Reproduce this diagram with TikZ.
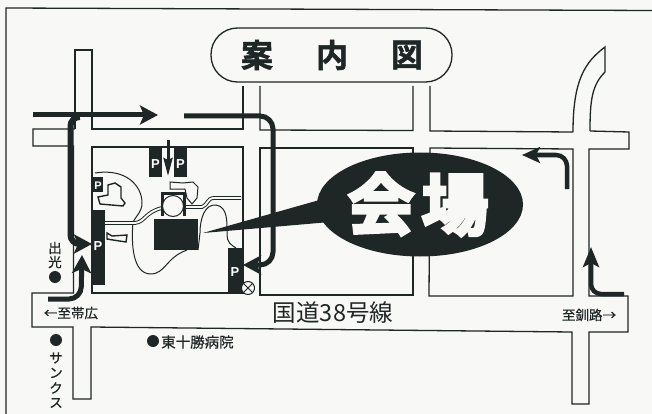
\documentclass[tikz,border=0pt]{standalone}
\usepackage{fontspec}
\usetikzlibrary{arrows.meta}
\setmainfont{Liberation Sans}
\newfontfamily\cjk[FakeBold=0.5]{Noto Sans CJK JP}
\newfontfamily\cjkthin{Noto Sans CJK JP}
\newfontfamily\cjkbig[FakeBold=1.6]{Noto Sans CJK JP Bold}
\newfontfamily\cjkheavy[FakeBold=4.5]{Noto Sans CJK JP Bold}
\definecolor{ink}{HTML}{1F2626}
\definecolor{paper}{HTML}{F8F8F6}
\tikzset{
  road/.style={draw=ink,line width=1.3pt,line join=miter},
  thin outline/.style={draw=ink,line width=1pt},
  route/.style={draw=ink,line width=5pt,rounded corners=9pt},
  big head/.style={-{Stealth[length=18pt,width=19pt,inset=4pt]}},
  park/.style={text=white,font=\bfseries\fontsize{13}{13}\selectfont,inner sep=0pt},
  label/.style={text=ink,inner sep=0pt,font=\cjk\fontsize{13.5}{14}\selectfont},
  dot/.style={fill=ink,draw=none,circle,minimum size=12pt,inner sep=0pt},
  lane/.style={draw=ink,line width=3.8pt},
  lane core/.style={draw=paper,line width=1.9pt}
}
\begin{document}
\begin{tikzpicture}[x=1pt,y=-1pt]
\useasboundingbox (0,0) rectangle (652,414);
\fill[paper] (0,0) rectangle (652,414);
% frame
\draw[ink,line width=1.3pt] (6,414) -- (6,8) -- (652,10.5);
% roads
\draw[road] (75,129) -- (75,50) -- (92,50) -- (92,129) -- (243,129) -- (243,86);
\draw[road] (260,86) -- (260,130) -- (413,130.5) -- (413,86);
\draw[road] (430,86) -- (430,131) -- (573,132);
\draw[road] (75,129) -- (33,129) -- (33,146) -- (73.5,146) -- (73.5,293) -- (32,293) -- (32,327) -- (73,327) -- (73,399) -- (91,399) -- (91,327) -- (572,332) -- (572,404) -- (589,404) -- (589,332) -- (628,332) -- (628,296) -- (589,296) -- (589,149) -- (629,149) -- (629,132) -- (590,131);
\draw[road] (590,131) .. controls (590,100) and (592,85) .. (605,72) -- (605,47) .. controls (585,62) and (573,80) .. (573,132);
\draw[road] (92,293) -- (92,147) -- (243,147) -- (243,293) -- cycle;
\draw[road] (260,148) -- (413,148) -- (413,295) -- (260,295) -- cycle;
\draw[road] (430,148) -- (573,149) -- (573,296) -- (429,296) -- cycle;
% title
\node[draw=ink,line width=1.3pt,fill=paper,rounded corners=26.5pt,minimum width=241pt,minimum height=54pt,inner sep=0pt] (title) at (331.5,55) {};
\node[text=ink,inner sep=0pt,font=\cjkbig\fontsize{32}{32}\selectfont] (t1) at (257,55) {案};
\node[text=ink,inner sep=0pt,font=\cjkbig\fontsize{32}{32}\selectfont] (t2) at (332,55) {内};
\node[text=ink,inner sep=0pt,font=\cjkbig\fontsize{32}{32}\selectfont] (t3) at (407,55) {図};
% site outlines
\draw[thin outline] (95,173) .. controls (125,168) and (142,185) .. (142,203) .. controls (142,212) and (136,216) .. (133,222) .. controls (131,245) and (133,273) .. (150,274) .. controls (166,274) and (165,258) .. (187,250);
\draw[thin outline] (198,250) -- (200,233) .. controls (200,218) and (205,204) .. (216,205) .. controls (228,207) and (227,222) .. (227,235) .. controls (227,242) and (231,245) .. (236,248);
% parking
\fill[ink] (149,147) rectangle (162,177);
\fill[ink] (174,147) rectangle (187,177);
\fill[ink] (92,177) rectangle (103,192);
\fill[ink] (92,210) rectangle (105,285);
\fill[ink] (228,248) rectangle (243,293);
\node[park] (p1) at (155.5,164) {P};
\node[park] (p2) at (180.5,164) {P};
\node[park,font=\bfseries\fontsize{11}{11}\selectfont] (p3) at (98,186) {P};
\node[park] (p4) at (98,246) {P};
\node[park] (p5) at (235,272) {P};
% venue block
\fill[ink] (154,219) rectangle (198,250);
% buildings
\draw[thin outline,fill=paper] (170,182) -- (170,189) -- (185,189) -- (187,198) -- (192,204) -- (197,198) -- (198,187) -- (193,182) -- (183,183) -- cycle;
\draw[thin outline,line width=1.4pt,fill=paper] (108,195) -- (108,185) -- (115,183) -- (121,187) -- (121,198) -- (125,203) -- (123,206) -- (100,204) -- (98,197) -- cycle;
\draw[thin outline,line width=1.4pt,fill=paper] (107,233) -- (112,236) -- (127,235) -- (126,242) -- (113,240) -- (107,239) -- cycle;
% lanes
\draw[lane] (105,223) -- (135,223) .. controls (145,222) and (145,212) .. (162,208);
\draw[lane core] (105,223) -- (135,223) .. controls (145,222) and (145,212) .. (162,208);
\draw[lane] (183,207) -- (202,207) .. controls (208,205) and (207,198) .. (214,198) -- (241,198);
\draw[lane core] (183,207) -- (202,207) .. controls (208,205) and (207,198) .. (214,198) -- (241,198);
% building around the circle
\fill[ink] (161,192) rectangle (186,216);
\fill[paper] (164,195) rectangle (183,216);
\draw[draw=ink,line width=1pt,fill=paper] (173,206) circle (10.5);
% wedge and ellipse
\fill[ink] (203,233) -- (330,197) -- (330,222) -- cycle;
\fill[ink] (420,204.5) ellipse [x radius=103,y radius=52];
\node[text=paper,inner sep=0pt,font=\cjkheavy\fontsize{67}{67}\selectfont] (venue1) at (381,204) {会};
\node[text=paper,inner sep=0pt,font=\cjkheavy\fontsize{67}{67}\selectfont] (venue2) at (455,205) {場};
% routes
\draw[route,rounded corners=0pt,big head] (33,115) -- (158,115);
\draw[route,rounded corners=13pt,big head] (184,116) -- (273,116) -- (273,265) -- (243,265);
\draw[route,rounded corners=9pt,line width=6pt,big head] (77,117) -- (70.5,117) -- (70.5,244) -- (92,244);
\draw[route,rounded corners=12pt,big head] (48,299) -- (81,299) -- (82,255);
\draw[ink,line width=3pt,-{Stealth[length=18pt,width=9pt,inset=2pt]}] (168,140) -- (168,176);
\draw[route,line width=4.5pt,rounded corners=11pt,-{Stealth[length=18pt,width=16pt,inset=4pt]}] (567,189) -- (567,155) -- (522,155);
\draw[route,line width=4.5pt,rounded corners=10pt,-{Stealth[length=20pt,width=16pt,inset=4pt]}] (624,294) -- (591,294) -- (591,247);
% signal
\draw[draw=ink,line width=1pt,fill=paper] (248,288) circle (6.5);
\draw[ink,line width=1pt] (243.4,283.4) -- (252.6,292.6) (243.4,292.6) -- (252.6,283.4);
% labels
\node[text=ink,inner sep=0pt,font=\cjkthin\fontsize{23.5}{24}\selectfont] (road38) at (333,313) {国道38号線};
\node[label] (west) at (71,313) {←至帯広};
\node[label] (east) at (589,315) {至釧路→};
\node[label] (l1) at (55,248) {出};
\node[label] (l2) at (55,262) {光};
\node[dot] (d1) at (55,277) {};
\node[dot] (d2) at (56,340) {};
\node[label] (s1) at (56,358) {サ};
\node[label] (s2) at (56,373) {ン};
\node[label] (s3) at (56,388) {ク};
\node[label] (s4) at (56,403) {ス};
\node[dot] (d3) at (153,341) {};
\node[label,anchor=west,font=\cjk\fontsize{14.5}{15}\selectfont] (hosp) at (161,342) {東十勝病院};
\end{tikzpicture}
\end{document}
